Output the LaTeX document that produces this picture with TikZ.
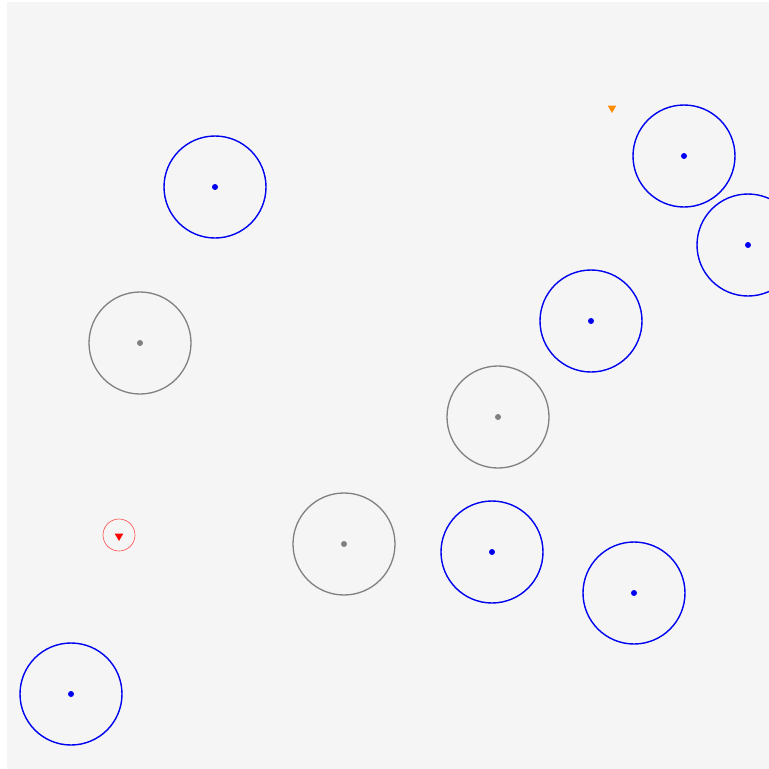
\documentclass[tikz,border=0pt]{standalone}
\usetikzlibrary{shapes.geometric}
\definecolor{bg}{HTML}{F5F5F5}
\definecolor{bl}{HTML}{0000F0}
\definecolor{gr}{HTML}{808080}
\definecolor{org}{HTML}{FF8C00}
\tikzset{
  ring/.style={circle,draw,line width=1.4pt,minimum size=102pt,inner sep=0pt},
  bring/.style={ring,draw=bl},
  gring/.style={ring,draw=gr,line width=1.3pt},
  ctr/.style={circle,inner sep=0pt,minimum size=6pt},
  bdot/.style={ctr,fill=bl},
  gdot/.style={ctr,fill=gr},
  tri/.style={regular polygon,regular polygon sides=3,shape border rotate=180,inner sep=0pt,minimum size=10pt},
}
\begin{document}
\begin{tikzpicture}[x=1pt,y=-1pt]
\useasboundingbox (0,0) rectangle (769,769);
\clip (0,0) rectangle (769,769);
\fill[white] (0,0) rectangle (769,769);
\fill[bg] (7,2) rectangle (769,769);
% blue
\node[bring] (b1) at (215,187) {}; \node[bdot] (d1) at (b1.center) {};
\node[bring] (b2) at (684,156) {}; \node[bdot] (d2) at (b2.center) {};
\node[bring] (b3) at (748,245) {}; \node[bdot] (d3) at (b3.center) {};
\node[bring] (b4) at (591,321) {}; \node[bdot] (d4) at (b4.center) {};
\node[bring] (b5) at (492,552) {}; \node[bdot] (d5) at (b5.center) {};
\node[bring] (b6) at (634,593) {}; \node[bdot] (d6) at (b6.center) {};
\node[bring] (b7) at (71,694) {}; \node[bdot] (d7) at (b7.center) {};
% gray
\node[gring] (g1) at (140,343) {}; \node[gdot] (e1) at (g1.center) {};
\node[gring] (g2) at (498,417) {}; \node[gdot] (e2) at (g2.center) {};
\node[gring] (g3) at (344,544) {}; \node[gdot] (e3) at (g3.center) {};
% red marker
\node[circle,draw=red!70,line width=0.6pt,minimum size=32pt,inner sep=0pt] (r) at (119,535) {};
\node[tri,fill=red] (rt) at (119,536) {};
% orange marker
\node[tri,fill=org] (ot) at (612,108) {};
\end{tikzpicture}
\end{document}
